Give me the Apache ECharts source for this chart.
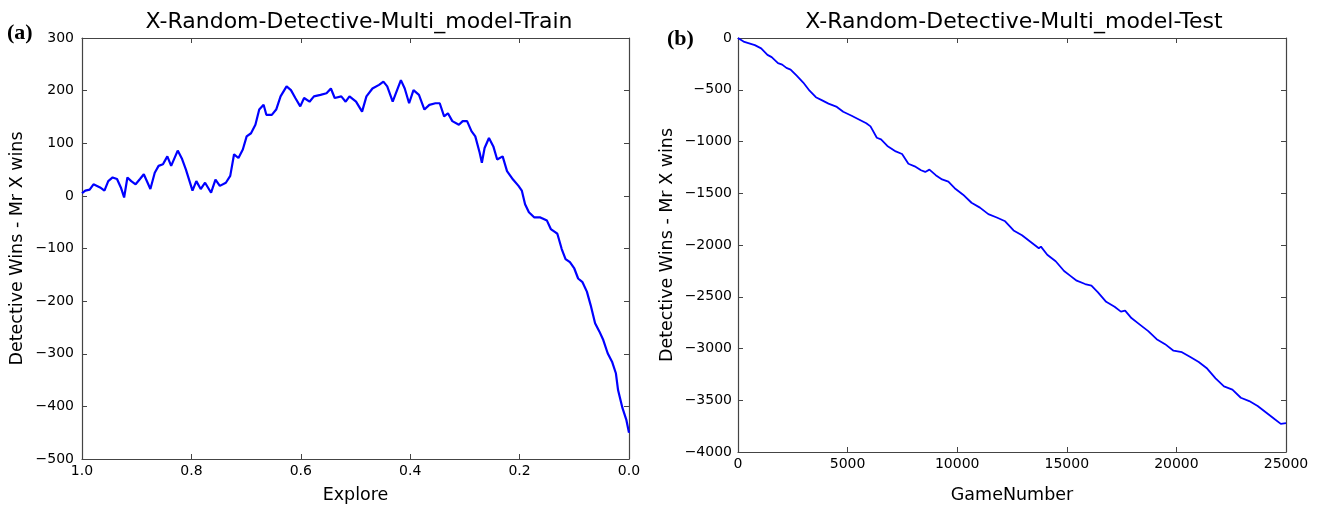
<!DOCTYPE html>
<html>
<head>
<meta charset="utf-8">
<script src="https://cdn.jsdelivr.net/npm/echarts@6/dist/echarts.min.js"></script>
<style>
html,body{margin:0;padding:0;background:#fff;}
#c{width:1320px;height:509px;}
</style>
</head>
<body>
<div id="c"></div>
<script>
// ---- Data ----
const trainTitle = 'X-Random-Detective-Multi_model-Train';
const testTitle = 'X-Random-Detective-Multi_model-Test';
const yLabel = 'Detective Wins - Mr X wins';
const trainXLabel = 'Explore';
const testXLabel = 'GameNumber';

const trainExplore = [1.000,0.994,0.986,0.979,0.967,0.959,0.952,0.944,0.936,0.929,0.923,0.917,0.910,0.902,0.894,0.887,0.875,0.867,0.860,0.852,0.844,0.837,0.825,0.817,0.810,0.798,0.791,0.783,0.775,0.764,0.756,0.748,0.737,0.729,0.722,0.714,0.706,0.699,0.691,0.683,0.676,0.668,0.663,0.653,0.645,0.637,0.626,0.618,0.610,0.601,0.594,0.584,0.576,0.564,0.553,0.545,0.538,0.526,0.518,0.511,0.499,0.488,0.480,0.469,0.457,0.449,0.442,0.432,0.424,0.417,0.410,0.402,0.394,0.384,0.374,0.365,0.354,0.346,0.338,0.331,0.323,0.311,0.304,0.296,0.288,0.281,0.273,0.269,0.264,0.256,0.248,0.241,0.231,0.223,0.212,0.202,0.196,0.190,0.183,0.173,0.162,0.150,0.143,0.135,0.131,0.123,0.116,0.108,0.100,0.093,0.085,0.077,0.070,0.062,0.054,0.047,0.039,0.031,0.024,0.020,0.012,0.005,0.000];
const trainValues = [5,10,12,22,16,10,28,35,32,16,-3,35,28,22,32,41,13,44,57,60,75,57,86,70,50,10,28,13,25,6,31,19,25,38,79,72,88,113,119,135,164,173,154,154,164,189,208,201,186,170,186,179,189,192,195,204,186,189,179,189,179,160,189,204,211,217,208,179,201,220,204,176,201,192,164,173,176,176,151,157,142,135,142,142,123,113,82,63,91,110,94,69,75,47,31,19,10,-16,-31,-41,-41,-47,-63,-69,-72,-101,-120,-126,-138,-157,-164,-182,-208,-242,-258,-274,-299,-315,-337,-369,-403,-425,-450];

const testGames = [0,288,768,1056,1344,1536,1824,2016,2208,2400,2688,2976,3264,3552,3840,4128,4511,4800,5184,5472,5853,6045,6333,6525,6813,7197,7485,7773,8061,8349,8541,8733,9021,9309,9597,9885,10269,10653,11037,11421,11805,12188,12572,12956,13340,13724,13820,14108,14492,14876,15164,15452,15836,16124,16412,16796,17180,17468,17660,17948,18332,18716,19100,19484,19868,20252,20636,21019,21403,21787,22171,22555,22939,23323,23707,24091,24475,24763,25000];
const testValues = [0,-38,-69,-100,-163,-185,-242,-257,-289,-305,-367,-430,-509,-572,-603,-634,-666,-713,-751,-782,-823,-854,-964,-980,-1043,-1096,-1121,-1215,-1240,-1278,-1294,-1272,-1325,-1366,-1388,-1451,-1514,-1592,-1639,-1702,-1734,-1771,-1859,-1906,-1969,-2032,-2016,-2094,-2157,-2251,-2298,-2345,-2377,-2393,-2455,-2549,-2597,-2644,-2634,-2706,-2769,-2832,-2910,-2958,-3021,-3036,-3083,-3131,-3194,-3288,-3366,-3398,-3476,-3508,-3555,-3618,-3681,-3728,-3722];

const trainXTicks = {min: 0, max: 1, interval: 0.2};
const trainYTicks = {min: -500, max: 300, interval: 100};
const testXTicks = {min: 0, max: 25000, interval: 5000};
const testYTicks = {min: -4000, max: 0, interval: 500};

// ---- Chart ----
const FONT = 'DejaVu Sans';
const frame = '#444';
const TXT = '#000';
const minus = v => (v < 0 ? '\u2212' + Math.abs(v) : String(v));

function axisBase(t, extra) {
  return Object.assign({
    type: 'value', min: t.min, max: t.max, interval: t.interval,
    splitLine: {show: false},
    axisLine: {show: true, onZero: false, lineStyle: {color: frame, width: 1.2}},
    axisTick: {show: true, inside: true, length: 5, lineStyle: {color: frame, width: 1}},
    axisLabel: {show: true, color: TXT, fontFamily: FONT, fontSize: 14, margin: 7}
  }, extra);
}

const chart = echarts.init(document.getElementById('c'), null, {renderer: 'canvas'});

const grids = [
  {left: 82, top: 38, width: 547, height: 424},
  {left: 738, top: 38, width: 548, height: 424}
];

const trainPairs = trainExplore.map((x, i) => [x, trainValues[i]]);
const testPairs = testGames.map((x, i) => [x, testValues[i]]);

const titleStyle = {fontFamily: FONT, fontSize: 22, fontWeight: 'normal', color: TXT};
const nameStyle = {fontFamily: FONT, fontSize: 17.5, color: TXT};

const option = {
  animation: false,
  backgroundColor: '#fff',
  title: [
    {text: trainTitle, left: 354, top: 6, textAlign: 'center', textStyle: titleStyle},
    {text: testTitle, left: 1009, top: 6, textAlign: 'center', textStyle: titleStyle}
  ],
  grid: grids,
  xAxis: [
    axisBase(trainXTicks, {gridIndex: 0, inverse: true, position: 'bottom',
      name: trainXLabel, nameLocation: 'middle', nameGap: 27, nameTextStyle: nameStyle,
      axisLabel: {show: true, color: TXT, fontFamily: FONT, fontSize: 14, margin: 5,
        formatter: v => v.toFixed(1)}}),
    axisBase(trainXTicks, {gridIndex: 0, inverse: true, position: 'top', axisLabel: {show: false}}),
    axisBase(testXTicks, {gridIndex: 1, position: 'bottom',
      name: testXLabel, nameLocation: 'middle', nameGap: 34, nameTextStyle: nameStyle,
      axisLabel: {show: true, color: TXT, fontFamily: FONT, fontSize: 14, margin: 5,
        formatter: v => String(v)}}),
    axisBase(testXTicks, {gridIndex: 1, position: 'top', axisLabel: {show: false}})
  ],
  yAxis: [
    axisBase(trainYTicks, {gridIndex: 0, position: 'left',
      name: yLabel, nameLocation: 'middle', nameGap: 56, nameRotate: 90, nameTextStyle: nameStyle,
      axisLabel: {show: true, color: TXT, fontFamily: FONT, fontSize: 14, margin: 8, formatter: minus}}),
    axisBase(trainYTicks, {gridIndex: 0, position: 'right', axisLabel: {show: false}}),
    axisBase(testYTicks, {gridIndex: 1, position: 'left',
      name: yLabel, nameLocation: 'middle', nameGap: 62, nameRotate: 90, nameTextStyle: nameStyle,
      axisLabel: {show: true, color: TXT, fontFamily: FONT, fontSize: 14, margin: 6, formatter: minus}}),
    axisBase(testYTicks, {gridIndex: 1, position: 'right', axisLabel: {show: false}})
  ],
  graphic: [
    {type: 'text', left: 7, top: 22, style: {text: '(a)', fontFamily: 'Liberation Serif', fontWeight: 'bold', fontSize: 22, fill: TXT}},
    {type: 'text', left: 667, top: 28, style: {text: '(b)', fontFamily: 'Liberation Serif', fontWeight: 'bold', fontSize: 22, fill: TXT}}
  ],
  series: [
    {type: 'line', xAxisIndex: 0, yAxisIndex: 0, data: trainPairs, showSymbol: false,
     lineStyle: {color: '#0000ff', width: 2.2}, clip: true},
    {type: 'line', xAxisIndex: 2, yAxisIndex: 2, data: testPairs, showSymbol: false,
     lineStyle: {color: '#0000ff', width: 1.8}, clip: true}
  ]
};
chart.setOption(option);
</script>
</body>
</html>
